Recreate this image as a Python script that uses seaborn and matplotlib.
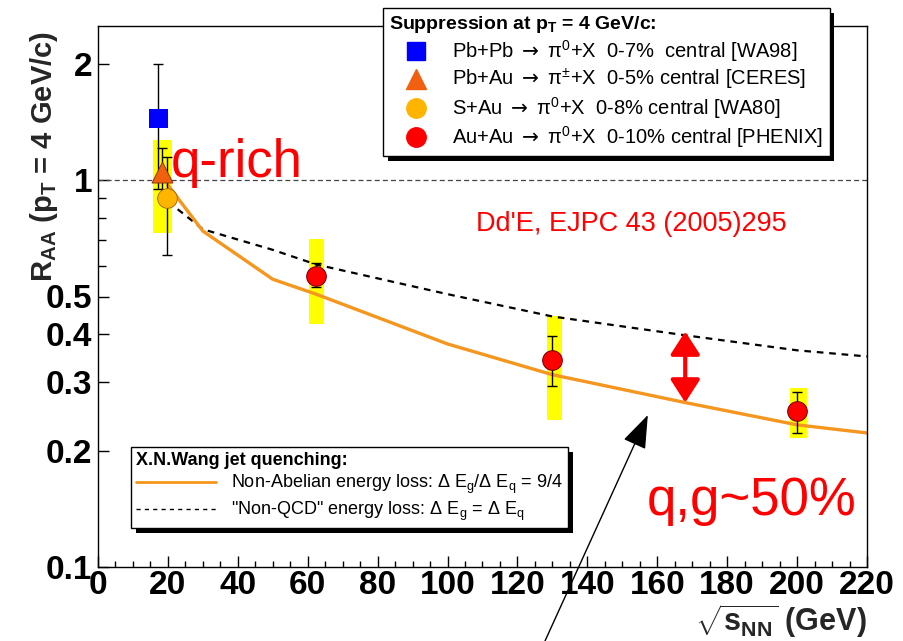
import numpy as np
import pandas as pd
import matplotlib
matplotlib.use("Agg")
import matplotlib.pyplot as plt
import matplotlib.patheffects as pe
from matplotlib.lines import Line2D
from matplotlib.ticker import FixedLocator, FixedFormatter, NullFormatter, MultipleLocator
import seaborn as sns

# ---------------- data ----------------
wa98_x = [17.3]
wa98_y = [1.44]
wa98_lo = [0.95]
wa98_hi = [2.0]

ceres_x = [18.2]
ceres_y = [1.05]
ceres_lo = [0.90]
ceres_hi = [1.21]

wa80_x = [19.6]
wa80_y = [0.90]
wa80_lo = [0.64]
wa80_hi = [1.15]

phenix_x = [62.4, 130, 200]
phenix_y = [0.564, 0.343, 0.253]
phenix_lo = [0.53, 0.294, 0.222]
phenix_hi = [0.61, 0.395, 0.284]

band_x = [18.5, 62.6, 130.5, 200.5]
band_lo = [0.73, 0.424, 0.24, 0.216]
band_hi = [1.27, 0.703, 0.445, 0.29]
band_w = [5.5, 4.3, 4.3, 4.9]

curve_x = [20, 30, 50, 62.4, 100, 130, 168, 200, 220]
nonabelian = [0.97, 0.738, 0.554, 0.507, 0.377, 0.314, 0.266, 0.233, 0.222]
nonqcd = [0.88, 0.746, 0.66, 0.605, 0.507, 0.444, 0.397, 0.363, 0.350]

yticks = [0.1, 0.2, 0.3, 0.4, 0.5, 1, 2]
yticklabels = ["0.1", "0.2", "0.3", "0.4", "0.5", "1", "2"]
yminor = [0.6, 0.7, 0.8, 0.9]

ARROW = r"$\mathsf{\rightarrow}$"
legend1_labels = [
    "Pb+Pb " + ARROW + r" $\pi^0$+X  0-7%  central [WA98]",
    "Pb+Au " + ARROW + r" $\pi^{\pm}$+X  0-5% central [CERES]",
    "S+Au " + ARROW + r" $\pi^0$+X  0-8% central [WA80]",
    "Au+Au " + ARROW + r" $\pi^0$+X  0-10% central [PHENIX]",
]
legend2_labels = [
    r"Non-Abelian energy loss: $\Delta$ E$_g$/$\Delta$ E$_q$ = 9/4",
    r'"Non-QCD" energy loss: $\Delta$ E$_g$ = $\Delta$ E$_q$',
]

# ---------------- style ----------------
sns.set_theme(style="ticks")
plt.rcParams["font.family"] = ["Liberation Sans", "DejaVu Sans"]
plt.rcParams["mathtext.fontset"] = "custom"
plt.rcParams["mathtext.rm"] = "Liberation Sans"
plt.rcParams["mathtext.it"] = "Liberation Sans:italic"
plt.rcParams["mathtext.bf"] = "Liberation Sans:bold"
plt.rcParams["mathtext.sf"] = "DejaVu Sans"
plt.rcParams["mathtext.default"] = "regular"
plt.rcParams["text.color"] = "black"
plt.rcParams["axes.edgecolor"] = "black"
plt.rcParams["xtick.color"] = "black"
plt.rcParams["ytick.color"] = "black"

fig = plt.figure(figsize=(9.04, 6.41), dpi=100)
fig.patch.set_facecolor("white")
ax = fig.add_axes([98 / 904, (641 - 567) / 641, 769 / 904, 541 / 641])
ax.set_facecolor("white")

# systematic bands
ax.bar(band_x, np.array(band_hi) - np.array(band_lo), bottom=band_lo,
       width=band_w, color="#ffff00", edgecolor="none", zorder=1)

# reference line
ax.axhline(1.0, color="#444444", lw=0.9, ls=(0, (4, 2.5)), zorder=1.5)

# theory curves
curves = pd.DataFrame({"x": curve_x, "nonabelian": nonabelian, "nonqcd": nonqcd})
sns.lineplot(data=curves, x="x", y="nonqcd", ax=ax, color="black", lw=1.6,
             linestyle=(0, (3, 2.6)), estimator=None, sort=False, zorder=2)
sns.lineplot(data=curves, x="x", y="nonabelian", ax=ax, color="#f5961e", lw=2.4,
             estimator=None, sort=False, zorder=2.1)

# error bars
def ebar(x, y, lo, hi):
    y = np.array(y)
    ax.errorbar(x, y, yerr=[y - np.array(lo), np.array(hi) - y], fmt="none",
                ecolor="black", elinewidth=1.0, capsize=3.5, capthick=1.0, zorder=3)

ebar(wa98_x, wa98_y, wa98_lo, wa98_hi)
ebar(ceres_x, ceres_y, ceres_lo, ceres_hi)
ebar(wa80_x, wa80_y, wa80_lo, wa80_hi)
ebar(phenix_x, phenix_y, phenix_lo, phenix_hi)

# markers
sns.scatterplot(x=wa98_x, y=wa98_y, ax=ax, marker="s", s=180, color="#0000ff",
                edgecolor="none", zorder=4)
sns.scatterplot(x=ceres_x, y=ceres_y, ax=ax, marker="^", s=230, color="#f0600f",
                edgecolor="#7a2a00", linewidth=0.6, zorder=4.1)
sns.scatterplot(x=wa80_x, y=wa80_y, ax=ax, marker="o", s=200, color="#ffb400",
                edgecolor="#9a6000", linewidth=0.6, zorder=4.2)
sns.scatterplot(x=phenix_x, y=phenix_y, ax=ax, marker="o", s=200, color="#ff0000",
                edgecolor="#6a0000", linewidth=0.7, zorder=4.3)

# axes
ax.set_yscale("log")
ax.set_xlim(0, 220)
ax.set_ylim(0.1, 2.5)
ax.yaxis.set_major_locator(FixedLocator(yticks))
ax.yaxis.set_major_formatter(FixedFormatter(yticklabels))
ax.yaxis.set_minor_locator(FixedLocator(yminor))
ax.yaxis.set_minor_formatter(NullFormatter())
ax.xaxis.set_major_locator(MultipleLocator(20))
ax.xaxis.set_minor_locator(MultipleLocator(5))
ax.tick_params(axis="both", which="both", direction="in", top=False, right=False,
               width=1.0)
ax.tick_params(axis="x", which="major", length=8, pad=2, labelsize=24)
ax.tick_params(axis="x", which="minor", length=4)
ax.tick_params(axis="y", which="major", length=8, pad=4, labelsize=24)
ax.tick_params(axis="y", which="minor", length=6)
for lab in ax.get_xticklabels() + ax.get_yticklabels():
    lab.set_fontweight("bold")
for sp in ax.spines.values():
    sp.set_linewidth(1.0)
    sp.set_color("black")

ax.set_ylabel(r"$\mathbf{R}_{\mathbf{AA}}$ (p$_{\mathbf{T}}$ = 4 GeV/c)",
              fontsize=21, fontweight="bold", loc="top")
ax.yaxis.set_label_coords(-0.049, 0.99)
ax.set_xlabel(r"$\sqrt{\mathbf{s}_{\mathbf{NN}}}$ (GeV)", fontsize=22,
              fontweight="bold", loc="right")
ax.xaxis.set_label_coords(1.0, -0.065)

# annotations
ax.text(20.9, 1.02, "q-rich", color="#ff0000", fontsize=38, va="baseline", ha="left", zorder=6)
ax.text(108, 0.738, "Dd'E, EJPC 43 (2005)295", color="#ff0000", fontsize=19.5,
        va="baseline", ha="left")
ax.text(157, 0.136, "q,g~50%", color="#ff0000", fontsize=38, va="baseline", ha="left")

ax.annotate("", xy=(168, 0.266), xytext=(168, 0.406),
            arrowprops=dict(arrowstyle="<|-|>,head_length=0.7,head_width=0.45",
                            color="#ff0000", lw=3.0, shrinkA=0, shrinkB=0,
                            mutation_scale=20))
ax.annotate("", xy=(157.3, 0.247), xycoords="data",
            xytext=(545 / 904, 0.0), textcoords="figure fraction",
            arrowprops=dict(arrowstyle="-|>,head_length=1.05,head_width=0.38",
                            color="black", lw=1.0, shrinkA=0, shrinkB=0,
                            mutation_scale=20),
            annotation_clip=False)

# legends
shadow = [pe.SimplePatchShadow(offset=(3.5, -3.5), shadow_rgbFace="black", alpha=1.0),
          pe.Normal()]

h1 = [
    Line2D([], [], marker="s", color="#0000ff", ls="none", markersize=13),
    Line2D([], [], marker="^", color="#f0600f", ls="none", markersize=15),
    Line2D([], [], marker="o", color="#ffb400", ls="none", markersize=14),
    Line2D([], [], marker="o", color="#ff0000", ls="none", markersize=14),
]
leg1 = ax.legend(h1, legend1_labels, loc="upper left",
                 bbox_to_anchor=(383 / 904, 1 - 8 / 641), bbox_transform=fig.transFigure,
                 borderaxespad=0, title=r"Suppression at p$_{\mathbf{T}}$ = 4 GeV/c:",
                 title_fontproperties={"weight": "bold", "size": 14}, alignment="left",
                 fontsize=14.5, frameon=True, fancybox=False, edgecolor="black",
                 framealpha=1, handlelength=2.7, handletextpad=0.45, borderpad=0.3,
                 labelspacing=0.15)
leg1.get_frame().set_linewidth(1.0)
leg1.get_frame().set_path_effects(shadow)
ax.add_artist(leg1)

h2 = [
    Line2D([], [], color="#f5961e", lw=2.0),
    Line2D([], [], color="black", lw=1.0, ls=(0, (3, 3))),
]
leg2 = ax.legend(h2, legend2_labels, loc="upper left",
                 bbox_to_anchor=(131 / 904, 1 - 447 / 641), bbox_transform=fig.transFigure,
                 borderaxespad=0, title="X.N.Wang jet quenching:",
                 title_fontproperties={"weight": "bold", "size": 13}, alignment="left",
                 fontsize=13, frameon=True, fancybox=False, edgecolor="black",
                 framealpha=1, handlelength=4.4, handletextpad=0.85, borderpad=0.3,
                 labelspacing=0.2)
leg2.get_frame().set_linewidth(1.0)
leg2.get_frame().set_path_effects(shadow)

fig.savefig("out.png", dpi=100)
